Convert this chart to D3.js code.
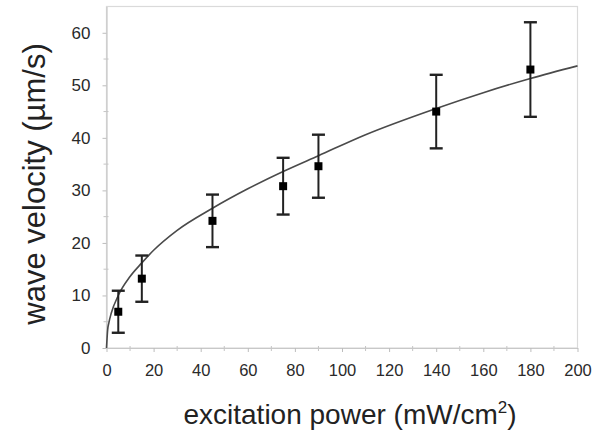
<!DOCTYPE html>
<html>
<head>
<meta charset="utf-8">
<script src="https://cdn.jsdelivr.net/npm/d3@7"></script>
<style>
  html, body { margin: 0; padding: 0; background: #fff; }
  svg { display: block; }
  text { font-family: Arial, "Liberation Sans", sans-serif; }
</style>
</head>
<body>
<svg id="chart" width="608" height="432"></svg>
<script>
// Measured wave velocity vs. excitation power
const power = [5, 15, 45, 75, 90, 140, 180];          // mW/cm^2
const velocity = [6.9, 13.2, 24.2, 30.8, 34.6, 45.0, 53.0]; // µm/s
const velocityErr = [4.0, 4.4, 5.0, 5.4, 6.0, 7.0, 9.0];

// Fitted trend curve samples
const fitPower = [0, 0.5, 1, 2, 5, 10, 15, 20, 30, 45, 60, 75, 90, 110, 140, 160, 180, 200];
const fitVelocity = [0, 3.5, 4.8, 6.6, 10.0, 13.6, 16.2, 18.6, 22.4, 26.6, 30.3, 33.6, 36.6, 40.6, 45.6, 48.6, 51.3, 53.7];

const xTicks = [0, 20, 40, 60, 80, 100, 120, 140, 160, 180, 200];
const yTicks = [0, 10, 20, 30, 40, 50, 60];

const svg = d3.select("#chart");
const plotL = 106.5, plotR = 577.5, plotT = 6.5, plotB = 348;

const x = d3.scaleLinear().domain([0, 200]).range([plotL, plotR]);
const y = d3.scaleLinear().domain([0, 65]).range([plotB, plotT]);

// plot frame
svg.append("rect")
  .attr("x", plotL).attr("y", plotT)
  .attr("width", plotR - plotL).attr("height", plotB - plotT)
  .attr("fill", "none").attr("stroke", "#dadada").attr("stroke-width", 1.2);

// minor ticks
const gMinor = svg.append("g").attr("stroke", "#c4c4c4").attr("stroke-width", 1);
gMinor.selectAll(".xm").data(d3.range(10, 200, 20)).join("line")
  .attr("x1", d => x(d)).attr("x2", d => x(d))
  .attr("y1", plotB - 2).attr("y2", plotB + 3);
gMinor.selectAll(".ym").data(d3.range(5, 65, 10)).join("line")
  .attr("x1", plotL - 3).attr("x2", plotL + 2)
  .attr("y1", d => y(d)).attr("y2", d => y(d));

// axes
const xAxis = svg.append("g")
  .attr("transform", `translate(0,${plotB})`)
  .call(d3.axisBottom(x).tickValues(xTicks).tickSizeInner(4).tickSizeOuter(0).tickPadding(12));
const yAxis = svg.append("g")
  .attr("transform", `translate(${plotL},0)`)
  .call(d3.axisLeft(y).tickValues(yTicks).tickSizeInner(4).tickSizeOuter(0).tickPadding(12));

[xAxis, yAxis].forEach(g => {
  g.select(".domain").attr("stroke", "#c8c8c8").attr("stroke-width", 1.2);
  g.selectAll(".tick line").attr("stroke", "#bdbdbd");
  g.selectAll(".tick text").attr("fill", "#2a2a2a").attr("font-size", 17)
    .attr("font-family", "Arial, 'Liberation Sans', sans-serif");
});
xAxis.selectAll(".tick text").attr("font-size", 16.5);

// fitted curve
svg.append("path")
  .datum(fitPower.map((p, i) => [p, fitVelocity[i]]))
  .attr("fill", "none").attr("stroke", "#4a4a4a").attr("stroke-width", 1.6)
  .attr("d", d3.line().x(d => x(d[0])).y(d => y(d[1])).curve(d3.curveMonotoneX));

// error bars
const pts = power.map((p, i) => ({ p, v: velocity[i], e: velocityErr[i] }));
const eb = svg.append("g").attr("stroke", "#222").attr("stroke-width", 2);
eb.selectAll(".stem").data(pts).join("line")
  .attr("x1", d => x(d.p)).attr("x2", d => x(d.p))
  .attr("y1", d => y(d.v - d.e)).attr("y2", d => y(d.v + d.e));
eb.selectAll(".capTop").data(pts).join("line")
  .attr("x1", d => x(d.p) - 6.5).attr("x2", d => x(d.p) + 6.5)
  .attr("y1", d => y(d.v + d.e)).attr("y2", d => y(d.v + d.e))
  .attr("stroke-width", 2.4);
eb.selectAll(".capBot").data(pts).join("line")
  .attr("x1", d => x(d.p) - 6.5).attr("x2", d => x(d.p) + 6.5)
  .attr("y1", d => y(d.v - d.e)).attr("y2", d => y(d.v - d.e))
  .attr("stroke-width", 2.4);

// markers
svg.append("g").selectAll("rect").data(pts).join("rect")
  .attr("x", d => x(d.p) - 4).attr("y", d => y(d.v) - 4)
  .attr("width", 8).attr("height", 8).attr("fill", "#000");

// axis titles
const xt = svg.append("text")
  .attr("x", (plotL + plotR) / 2 + 8).attr("y", 424)
  .attr("text-anchor", "middle").attr("font-size", 28).attr("fill", "#222");
xt.append("tspan").text("excitation power (mW/cm");
xt.append("tspan").text("2").attr("font-size", 17).attr("dy", -11);
xt.append("tspan").text(")").attr("dy", 11);

svg.append("text")
  .attr("transform", `translate(45,184) rotate(-90)`)
  .attr("text-anchor", "middle").attr("font-size", 31).attr("fill", "#222")
  .text("wave velocity (µm/s)");
</script>
</body>
</html>
